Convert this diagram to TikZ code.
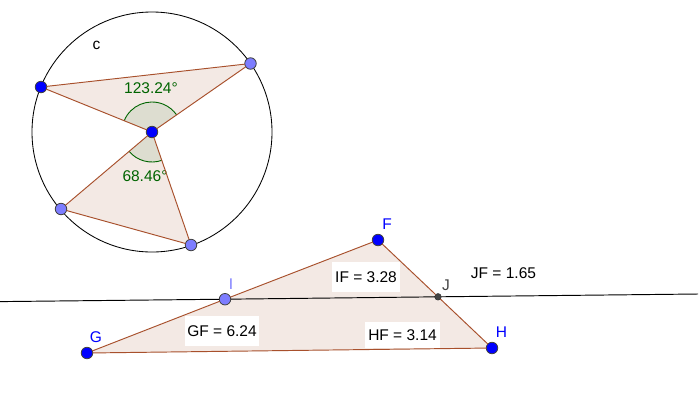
\documentclass[tikz,border=0pt]{standalone}
\usepackage{fontspec}
\setmainfont{Liberation Sans}
\definecolor{polyfill}{HTML}{F3E9E4}
\definecolor{edgebrown}{HTML}{A8502C}
\definecolor{sectorfill}{HTML}{DDDDD0}
\definecolor{anglegreen}{HTML}{006400}
\definecolor{ptblue}{HTML}{0000FF}
\definecolor{ptlight}{HTML}{7D7DFF}
\definecolor{ptdark}{HTML}{444444}
\tikzset{
  x=1pt,y=-1pt,
  every node/.style={font=\fontsize{15.5}{18}\selectfont,inner sep=0pt,outer sep=0pt},
  dotbase/.style={circle,draw=black!75,line width=.8pt,minimum size=11.5pt},
  dotblue/.style={dotbase,fill=ptblue},
  dotlight/.style={dotbase,fill=ptlight},
  dotdark/.style={circle,draw=black!80,line width=.6pt,fill=ptdark,minimum size=6.5pt},
  seg/.style={draw=edgebrown,line width=.95pt},
  poly/.style={fill=polyfill},
  sector/.style={fill=sectorfill},
  anglearc/.style={draw=anglegreen,line width=.9pt},
  anglelabel/.style={text=anglegreen},
  valuebox/.style={fill=white,text=black,minimum width=#1},
  ptlabel/.style={text=ptblue},
}
\begin{document}
\begin{tikzpicture}
\useasboundingbox[fill=white] (0,0) rectangle (700,400);
\coordinate (Lleft) at (0,301.6);
\coordinate (Lright) at (698,294);
\node[circle,draw=black,line width=.85pt,minimum size=240pt] (circ) at (152,132) {};
\coordinate (O) at (152,132);
\coordinate (Ac) at (41,87);
\coordinate (Bc) at (250.5,63.5);
\coordinate (Cc) at (61,209);
\coordinate (Dc) at (191,245);
\coordinate (Fc) at (378,240);
\coordinate (Gc) at (87,353);
\coordinate (Hc) at (492,348);
\coordinate (Ic) at (225,299.2);
\coordinate (Jc) at (438,296.8);
\fill[poly] (O) -- (Ac) -- (Bc) -- cycle;
\fill[poly] (O) -- (Cc) -- (Dc) -- cycle;
\fill[poly] (Fc) -- (Gc) -- (Hc) -- cycle;
\path[sector] (O) -- ++(-157.9:30) arc[start angle=-157.9,end angle=-34.8,radius=30] -- cycle;
\path[sector] (O) -- ++(70.9:30) arc[start angle=70.9,end angle=139.8,radius=30] -- cycle;
\draw[anglearc] (O) ++(-157.9:30) arc[start angle=-157.9,end angle=-34.8,radius=30];
\draw[anglearc] (O) ++(70.9:30) arc[start angle=70.9,end angle=139.8,radius=30];
\node[dotblue] (O1) at (O) {};
\node[dotblue] (A) at (Ac) {};
\node[dotlight] (B) at (Bc) {};
\node[dotlight] (C) at (Cc) {};
\node[dotlight] (D) at (Dc) {};
\node[dotblue] (F) at (Fc) {};
\node[dotblue] (G) at (Gc) {};
\node[dotblue] (H) at (Hc) {};
\node[dotlight] (I) at (Ic) {};
\node[dotdark] (J) at (Jc) {};
\node[valuebox=74pt,minimum height=30pt] (gf) at (222,331) {GF = 6.24};
\node[valuebox=68pt,minimum height=30pt] (if) at (366,277) {IF = 3.28};
\node[valuebox=75pt,minimum height=26pt] (hf) at (402.5,335) {HF = 3.14};
\node[text=black] (jf) at (503.5,273) {JF = 1.65};
\node[text=black] (cl) at (96.5,45) {c};
\node[anglelabel] (a1) at (151,88) {123.24°};
\node[anglelabel] (a2) at (145,176.5) {68.46°};
\node[ptlabel] (Fl) at (387,224) {F};
\node[ptlabel] (Gl) at (96,337) {G};
\node[ptlabel] (Hl) at (501.5,332) {H};
\node[text=ptlight] (Il) at (231,284) {I};
\node[text=ptdark] (Jl) at (446,285) {J};
\draw[black,line width=.95pt] (Lleft) -- (I) (I) -- (J) (J) -- (Lright);
\draw[seg] (O1) -- (A) (A) -- (B) (B) -- (O1);
\draw[seg] (O1) -- (C) (C) -- (D) (D) -- (O1);
\draw[seg] (G) -- (I) (I) -- (F) (F) -- (J) (J) -- (H) (H) -- (G);
\end{tikzpicture}
\end{document}
